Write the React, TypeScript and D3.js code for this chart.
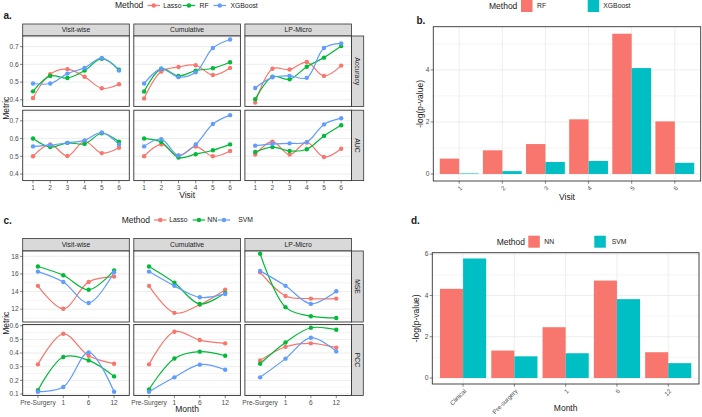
import React from 'react';
import * as d3 from 'd3';

// ---------- DATA ----------
const visits = ['1', '2', '3', '4', '5', '6'];
const schemes = ['Visit-wise', 'Cumulative', 'LP-Micro'];
const methodsA = ['Lasso', 'RF', 'XGBoost'];
const metricsA = ['Accuracy', 'AUC'];
// [scheme][visit]
const accLasso = [[0.41, 0.545, 0.573, 0.53, 0.465, 0.488], [0.408, 0.56, 0.585, 0.595, 0.54, 0.58], [0.385, 0.575, 0.571, 0.613, 0.535, 0.593]];
const accRF = [[0.448, 0.535, 0.523, 0.565, 0.632, 0.57], [0.447, 0.575, 0.535, 0.565, 0.578, 0.612], [0.404, 0.53, 0.516, 0.587, 0.638, 0.703]];
const accXGB = [[0.492, 0.492, 0.548, 0.58, 0.636, 0.565], [0.492, 0.575, 0.528, 0.555, 0.692, 0.74], [0.467, 0.527, 0.535, 0.524, 0.692, 0.718]];
const aucLasso = [[0.5, 0.567, 0.502, 0.585, 0.518, 0.548], [0.5, 0.567, 0.503, 0.555, 0.5, 0.53], [0.51, 0.583, 0.51, 0.578, 0.496, 0.543]];
const aucRF = [[0.6, 0.552, 0.576, 0.57, 0.63, 0.582], [0.6, 0.58, 0.493, 0.512, 0.534, 0.567], [0.524, 0.552, 0.53, 0.54, 0.615, 0.675]];
const aucXGB = [[0.556, 0.563, 0.576, 0.59, 0.634, 0.567], [0.556, 0.597, 0.505, 0.567, 0.682, 0.732], [0.56, 0.57, 0.573, 0.58, 0.68, 0.715]];
const ticksA = [0.4, 0.5, 0.6, 0.7];
const minorA = [0.45, 0.55, 0.65, 0.75];

const bVisits = ['1', '2', '3', '4', '5', '6'];
const methodsB = ['RF', 'XGBoost'];
const bRF = [0.59, 0.91, 1.15, 2.1, 5.39, 2.02];
const bXGB = [0.02, 0.11, 0.46, 0.5, 4.07, 0.43];
const ticksB = [0, 2, 4];
const minorB = [1, 3, 5];

const months = ['Pre-Surgery', '1', '6', '12'];
const methodsC = ['Lasso', 'NN', 'SVM'];
const metricsC = ['MSE', 'PCC'];
const mseLasso = [[14.65, 12.04, 15.1, 15.7], [14.65, 11.58, 12.5, 14.2], [16.2, 13.5, 13.2, 13.2]];
const mseNN = [[16.85, 15.85, 14.2, 16.4], [16.85, 15.0, 12.58, 13.85], [18.3, 12.23, 11.2, 11.0]];
const mseSVM = [[16.27, 15.08, 12.7, 16.2], [16.27, 14.65, 13.35, 13.73], [16.35, 14.65, 12.6, 14.04]];
const pccLasso = [[0.317, 0.541, 0.38, 0.322], [0.317, 0.556, 0.495, 0.471], [0.346, 0.446, 0.471, 0.44]];
const pccNN = [[0.127, 0.371, 0.346, 0.229], [0.134, 0.36, 0.41, 0.38], [0.322, 0.478, 0.585, 0.571]];
const pccSVM = [[0.117, 0.151, 0.405, 0.117], [0.117, 0.222, 0.315, 0.278], [0.222, 0.359, 0.512, 0.412]];
const ticksMSE = [12, 14, 16, 18];
const minorMSE = [11, 13, 15, 17];
const ticksPCC = [0.1, 0.2, 0.3, 0.4, 0.5, 0.6];
const minorPCC = [0.15, 0.25, 0.35, 0.45, 0.55];

const dMonths = ['Clinical', 'Pre-surgery', '1', '6', '12'];
const methodsD = ['NN', 'SVM'];
const dNN = [4.32, 1.33, 2.46, 4.72, 1.25];
const dSVM = [5.79, 1.05, 1.2, 3.82, 0.72];
const ticksD = [0, 2, 4, 6];
const minorD = [1, 3, 5];

// ---------- STYLE ----------
const FONT = "'Liberation Sans', Arial, Helvetica, sans-serif";
const COL3 = ['#F8766D', '#00BA38', '#619CFF'];
const COL2 = ['#F8766D', '#00BFC4'];
const GRID = '#EBEBEB';
const DARK = '#333333';
const TXT = '#4D4D4D';

type Series = { name: string; color: string; values: number[][][] }; // [row][col][i]

function FacetLines(p: any) {
  const { cats, cols, rowNames, rowDomains, rowTicks, rowMinor, rowFmt, series, colX, panelW, stripTop, stripH, rowTops, rowH, rStripW, xTitle, xTitleY, yTitle } = p;
  const xs = colX.map((x0: number) => d3.scalePoint<string>().domain(cats).range([x0, x0 + panelW]).padding(0.6));
  const ys = rowTops.map((t: number, r: number) => d3.scaleLinear().domain(rowDomains[r]).range([t + rowH, t]));
  const lastRight = colX[colX.length - 1] + panelW;
  const bottom = rowTops[rowTops.length - 1] + rowH;
  const els: any[] = [];
  cols.forEach((c: string, ci: number) => {
    els.push(<rect key={'s' + ci} x={colX[ci]} y={stripTop} width={panelW} height={stripH} fill="#D9D9D9" stroke={DARK} strokeWidth={0.8} />);
    els.push(<text key={'st' + ci} x={colX[ci] + panelW / 2} y={stripTop + stripH / 2} dy="0.35em" textAnchor="middle" fontSize={6.8} fill="#1A1A1A">{c}</text>);
  });
  rowNames.forEach((rn: string, ri: number) => {
    const t = rowTops[ri];
    els.push(<rect key={'rs' + ri} x={lastRight} y={t} width={rStripW} height={rowH} fill="#D9D9D9" stroke={DARK} strokeWidth={0.8} />);
    els.push(<text key={'rst' + ri} transform={`translate(${lastRight + rStripW / 2},${t + rowH / 2}) rotate(90)`} dy="0.35em" textAnchor="middle" fontSize={6.8} fill="#1A1A1A">{rn}</text>);
    const y = ys[ri];
    cols.forEach((_c: string, ci: number) => {
      const x0 = colX[ci];
      const x = xs[ci];
      const g: any[] = [];
      g.push(<rect key="bg" x={x0} y={t} width={panelW} height={rowH} fill="#fff" />);
      rowMinor[ri].filter((v: number) => v >= rowDomains[ri][0] && v <= rowDomains[ri][1]).forEach((v: number, k: number) =>
        g.push(<line key={'mn' + k} x1={x0} x2={x0 + panelW} y1={y(v)} y2={y(v)} stroke={GRID} strokeWidth={0.5} />));
      rowTicks[ri].forEach((v: number, k: number) =>
        g.push(<line key={'mj' + k} x1={x0} x2={x0 + panelW} y1={y(v)} y2={y(v)} stroke={GRID} strokeWidth={0.9} />));
      series.forEach((s: Series, si: number) => {
        const vals = s.values[ri][ci];
        const line = d3.line<number>().x((_v, i) => x(cats[i]) as number).y(v => y(v)).curve(d3.curveCatmullRom.alpha(0.5));
        g.push(<path key={'l' + si} d={line(vals) || ''} fill="none" stroke={s.color} strokeWidth={1.2} />);
      });
      series.forEach((s: Series, si: number) => {
        s.values[ri][ci].forEach((v: number, i: number) =>
          g.push(<circle key={'p' + si + '_' + i} cx={x(cats[i])} cy={y(v)} r={2.2} fill={s.color} />));
      });
      g.push(<rect key="bd" x={x0} y={t} width={panelW} height={rowH} fill="none" stroke={DARK} strokeWidth={0.9} />);
      els.push(<g key={'pn' + ri + '_' + ci}>{g}</g>);
    });
    // y axis
    const x0 = colX[0];
    rowTicks[ri].forEach((v: number, k: number) => {
      els.push(<line key={'yt' + ri + k} x1={x0 - 2.7} x2={x0} y1={y(v)} y2={y(v)} stroke={DARK} strokeWidth={0.6} />);
      els.push(<text key={'yl' + ri + k} x={x0 - 4} y={y(v)} dy="0.35em" textAnchor="end" fontSize={6.6} fill={TXT}>{rowFmt[ri](v)}</text>);
    });
  });
  cols.forEach((_c: string, ci: number) => {
    cats.forEach((cat: string, i: number) => {
      const xv = xs[ci](cat) as number;
      els.push(<line key={'xt' + ci + i} x1={xv} x2={xv} y1={bottom} y2={bottom + 2.7} stroke={DARK} strokeWidth={0.6} />);
      els.push(<text key={'xl' + ci + i} x={xv} y={bottom + 9.5} textAnchor="middle" fontSize={6.6} fill={TXT}>{cat}</text>);
    });
  });
  const midX = (colX[0] + lastRight) / 2;
  const midY = (rowTops[0] + bottom) / 2;
  els.push(<text key="xtitle" x={midX} y={xTitleY} textAnchor="middle" fontSize={8.5} fill="#1A1A1A">{xTitle}</text>);
  els.push(<text key="ytitle" transform={`translate(${colX[0] - 17},${midY}) rotate(-90)`} dy="0.35em" textAnchor="middle" fontSize={8.5} fill="#1A1A1A">{yTitle}</text>);
  return <g>{els}</g>;
}

function LineLegend({ x, y, items }: any) {
  return (
    <g>
      <text x={x} y={y} dy="0.35em" fontSize={8.5} fill="#1A1A1A">Method</text>
      {items.map((it: any, i: number) => (
        <g key={i}>
          <line x1={it.kx} x2={it.kx + 12.5} y1={y} y2={y} stroke={it.color} strokeWidth={1.2} />
          <circle cx={it.kx + 6.25} cy={y} r={2.2} fill={it.color} />
          <text x={it.tx} y={y} dy="0.35em" fontSize={6.8} fill="#1A1A1A">{it.name}</text>
        </g>
      ))}
    </g>
  );
}

function BarLegend({ x, y, items }: any) {
  return (
    <g>
      <text x={x} y={y} dy="0.35em" fontSize={8.5} fill="#1A1A1A">Method</text>
      {items.map((it: any, i: number) => (
        <g key={i}>
          <rect x={it.kx} y={y - 6} width={11.5} height={12} fill={it.color} />
          <text x={it.tx} y={y} dy="0.35em" fontSize={6.8} fill="#1A1A1A">{it.name}</text>
        </g>
      ))}
    </g>
  );
}

function Bars(p: any) {
  const { cats, series, x0, x1, y0, y1, domain, ticks, minor, xTitle, xTitleY, yTitle, yTitleX } = p;
  const x = d3.scalePoint<string>().domain(cats).range([x0, x1]).padding(0.6);
  const y = d3.scaleLinear().domain(domain).range([y1, y0]);
  const step = x.step();
  const bw = step * 0.45;
  const els: any[] = [];
  els.push(<rect key="bg" x={x0} y={y0} width={x1 - x0} height={y1 - y0} fill="#fff" />);
  minor.forEach((v: number, k: number) => els.push(<line key={'mn' + k} x1={x0} x2={x1} y1={y(v)} y2={y(v)} stroke={GRID} strokeWidth={0.5} />));
  ticks.forEach((v: number, k: number) => els.push(<line key={'mj' + k} x1={x0} x2={x1} y1={y(v)} y2={y(v)} stroke={GRID} strokeWidth={0.9} />));
  cats.forEach((c: string, i: number) => els.push(<line key={'vg' + i} x1={x(c)} x2={x(c)} y1={y0} y2={y1} stroke={GRID} strokeWidth={0.9} />));
  series.forEach((s: any, si: number) => {
    s.values.forEach((v: number, i: number) => {
      const cx = x(cats[i]) as number;
      const left = cx - 0.45 * step + si * bw;
      els.push(<rect key={'b' + si + '_' + i} x={left} y={y(v)} width={bw} height={y(0) - y(v)} fill={s.color} />);
    });
  });
  els.push(<rect key="bd" x={x0} y={y0} width={x1 - x0} height={y1 - y0} fill="none" stroke={DARK} strokeWidth={0.9} />);
  ticks.forEach((v: number, k: number) => {
    els.push(<line key={'yt' + k} x1={x0 - 2.7} x2={x0} y1={y(v)} y2={y(v)} stroke={DARK} strokeWidth={0.6} />);
    els.push(<text key={'yl' + k} x={x0 - 4} y={y(v)} dy="0.35em" textAnchor="end" fontSize={6.6} fill={TXT}>{v}</text>);
  });
  cats.forEach((c: string, i: number) => {
    const cx = x(c) as number;
    els.push(<line key={'xt' + i} x1={cx} x2={cx} y1={y1} y2={y1 + 2.7} stroke={DARK} strokeWidth={0.6} />);
    els.push(<text key={'xl' + i} transform={`translate(${cx + 2},${y1 + 6}) rotate(-45)`} dy="0.35em" textAnchor="end" fontSize={6.2} fill={TXT}>{c}</text>);
  });
  els.push(<text key="xtitle" x={(x0 + x1) / 2} y={xTitleY} textAnchor="middle" fontSize={8.5} fill="#1A1A1A">{xTitle}</text>);
  els.push(<text key="ytitle" transform={`translate(${yTitleX},${(y0 + y1) / 2}) rotate(-90)`} dy="0.35em" textAnchor="middle" fontSize={8.5} fill="#1A1A1A">{yTitle}</text>);
  return <g>{els}</g>;
}

export default function App() {
  const f1 = (v: number) => v.toFixed(1);
  const f0 = (v: number) => String(v);
  const seriesA: Series[] = [
    { name: methodsA[0], color: COL3[0], values: [accLasso, aucLasso] },
    { name: methodsA[1], color: COL3[1], values: [accRF, aucRF] },
    { name: methodsA[2], color: COL3[2], values: [accXGB, aucXGB] },
  ];
  const seriesC: Series[] = [
    { name: methodsC[0], color: COL3[0], values: [mseLasso, pccLasso] },
    { name: methodsC[1], color: COL3[1], values: [mseNN, pccNN] },
    { name: methodsC[2], color: COL3[2], values: [mseSVM, pccSVM] },
  ];
  const colX = [22.7, 133.8, 244.9];
  return (
    <svg width={702} height={417} style={{ position: 'absolute', left: 0, top: 0, background: '#fff' }} fontFamily={FONT}>
      <rect x={0} y={0} width={702} height={417} fill="#fff" />
      {/* panel a */}
      <text x={3.5} y={15.5} dy="0.35em" fontSize={10} fontWeight="bold" fill="#1A1A1A">a.</text>
      <LineLegend x={115} y={5.5} items={[
        { name: methodsA[0], color: COL3[0], kx: 147.5, tx: 163.3 },
        { name: methodsA[1], color: COL3[1], kx: 182.7, tx: 199.5 },
        { name: methodsA[2], color: COL3[2], kx: 213.5, tx: 230.5 },
      ]} />
      <FacetLines cats={visits} cols={schemes} rowNames={metricsA}
        rowDomains={[[0.363, 0.76], [0.363, 0.76]]} rowTicks={[ticksA, ticksA]} rowMinor={[minorA, minorA]} rowFmt={[f1, f1]}
        series={seriesA} colX={colX} panelW={106.6} stripTop={24} stripH={12} rowTops={[36, 110.2]} rowH={70.4} rStripW={12.2}
        xTitle="Visit" xTitleY={197.5} yTitle="Metric" />
      {/* panel b */}
      <text x={416.5} y={20} dy="0.35em" fontSize={10} fontWeight="bold" fill="#1A1A1A">b.</text>
      <BarLegend x={489} y={6} items={[
        { name: methodsB[0], color: COL2[0], kx: 521, tx: 537 },
        { name: methodsB[1], color: COL2[1], kx: 587.7, tx: 603.3 },
      ]} />
      <Bars cats={bVisits} series={[{ name: methodsB[0], color: COL2[0], values: bRF }, { name: methodsB[1], color: COL2[1], values: bXGB }]}
        x0={433.3} x1={700.7} y0={26.7} y1={181} domain={[-0.27, 5.66]} ticks={ticksB} minor={minorB}
        xTitle="Visit" xTitleY={200} yTitle="-log(p-value)" yTitleX={420.5} />
      {/* panel c */}
      <text x={3.5} y={220} dy="0.35em" fontSize={10} fontWeight="bold" fill="#1A1A1A">c.</text>
      <LineLegend x={121.7} y={220} items={[
        { name: methodsC[0], color: COL3[0], kx: 154, tx: 169.3 },
        { name: methodsC[1], color: COL3[1], kx: 192.7, tx: 207.3 },
        { name: methodsC[2], color: COL3[2], kx: 217.7, tx: 238.3 },
      ]} />
      <FacetLines cats={months} cols={schemes} rowNames={metricsC}
        rowDomains={[[10.54, 18.61], [0.089, 0.609]]} rowTicks={[ticksMSE, ticksPCC]} rowMinor={[minorMSE, minorPCC]} rowFmt={[f0, f1]}
        series={seriesC} colX={colX} panelW={106.6} stripTop={238.5} stripH={12.5} rowTops={[251, 324.5]} rowH={71} rStripW={11.8}
        xTitle="Month" xTitleY={412} yTitle="Metric" />
      {/* panel d */}
      <text x={411} y={220} dy="0.35em" fontSize={10} fontWeight="bold" fill="#1A1A1A">d.</text>
      <BarLegend x={496.7} y={241.7} items={[
        { name: methodsD[0], color: COL2[0], kx: 528.3, tx: 544.3 },
        { name: methodsD[1], color: COL2[1], kx: 594.3, tx: 611.7 },
      ]} />
      <Bars cats={dMonths} series={[{ name: methodsD[0], color: COL2[0], values: dNN }, { name: methodsD[1], color: COL2[1], values: dSVM }]}
        x0={432.3} x1={699} y0={252.7} y1={384} domain={[-0.29, 6.07]} ticks={ticksD} minor={minorD}
        xTitle="Month" xTitleY={411} yTitle="-log(p-value)" yTitleX={416.5} />
    </svg>
  );
}
